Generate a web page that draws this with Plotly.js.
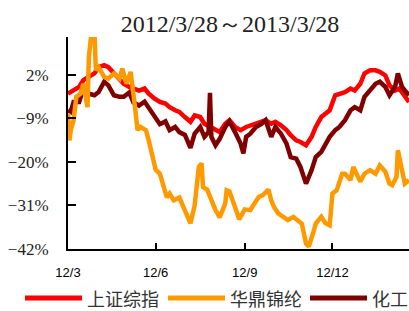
<!DOCTYPE html>
<html>
<head>
<meta charset="utf-8">
<script src="https://cdn.plot.ly/plotly-3.0.1.min.js"></script>
<style>html,body{margin:0;padding:0;background:#fff;}#chart{width:409px;height:311px;}</style>
</head>
<body>
<div id="chart"></div>
<script>
// Trading-day index (0 = 2012/3/28 ... 245 = 2013/3/28), cumulative change in %
var seriesNames = ['上证综指', '华鼎锦纶', '化工'];
var seriesColors = ['#FF0000', '#FF9900', '#800000'];

var szDays = [0,4,8,11,15,19,22,26,29,33,37,40,44,47,51,55,58,62,66,70,73,77,80,84,88,91,95,98,102,106,109,113,116,120,124,128,131,135,139,142,146,149,153,157,160,164,167,171,175,178,182,185,188,192,195,199,203,206,210,213,217,221,224,228,231,235,238,242,245];
var szVals = [-2.8,-2,-1.1,0.6,1.4,2.3,3.9,4.4,3.9,2.3,0.6,-0.3,-1.1,-1.5,-2,-1.5,-2.8,-4,-4.9,-5.3,-6.2,-7,-7.4,-8.7,-9.9,-8.3,-8.7,-10.4,-11.2,-12,-12.5,-10.4,-9.5,-11.2,-12,-11.2,-10.8,-10.4,-9.9,-9.5,-10.4,-9.9,-10.8,-12,-13.3,-14.6,-15,-15.8,-13.7,-11.2,-8.7,-7.8,-7,-3.2,-2.8,-2.4,-1.5,-2,-0.3,2.3,3.1,3.1,2.7,1.8,-0.7,-2,-1.5,-3.6,-4.9];

var hdDays = [0,1,2,4,6,9,11,14,15,17,19,20,22,26,29,33,37,39,42,45,47,50,52,56,58,60,63,66,68,71,73,76,80,84,88,91,94,96,97,100,102,106,109,113,114,116,120,123,127,131,134,137,140,144,146,148,151,155,158,162,166,168,171,173,176,178,182,185,188,190,193,197,199,203,205,208,210,213,217,221,224,228,231,233,236,237,240,242,245];
var hdVals = [-7.8,-14.6,-12,-9.5,-3.6,-2.8,-0.3,-6.2,6.5,13,13,3.1,3.9,1.4,1,2.3,1,3.5,-0.3,2.7,-2.8,-12,-11.2,-12,-14.6,-17.5,-22,-23,-25.5,-29,-28,-29.7,-29,-32.3,-35.5,-31,-21.3,-20.4,-26.4,-27,-28.8,-32.2,-34,-30.5,-27.2,-27.5,-31.4,-34.5,-32,-32.2,-30.5,-28.9,-28.4,-27,-29.7,-31.4,-33,-33.9,-34.7,-33.9,-35.1,-35.6,-40.6,-41.4,-38.1,-35.6,-33.9,-35.5,-36,-28,-27.2,-23,-23,-24.6,-21.3,-23.8,-25,-23,-22.1,-23,-20.9,-22.5,-25.5,-25.9,-23.8,-17.1,-23,-25.5,-24.6];

var hgDays = [0,2,4,8,11,15,19,22,26,29,33,37,40,44,47,51,55,59,62,66,70,73,77,80,84,88,91,95,98,101,102,103,106,109,113,116,120,124,126,128,131,135,139,142,146,149,153,157,160,164,167,171,175,178,182,185,188,192,195,199,203,206,210,213,217,221,224,228,231,235,237,240,242,245];
var hgVals = [-7,-7.4,-4.9,-4.9,-1.5,-2.8,-3.2,-2.4,0.2,-0.7,-3.2,-3.6,-3.6,-2.5,-5,-5.8,-4.8,-7,-8.5,-10.5,-9.8,-12,-11.2,-12.5,-13.2,-16.5,-12.9,-11.2,-13.7,-12.5,-2.6,-13.7,-15.8,-14.2,-11.2,-9.8,-12.5,-15.4,-17.9,-13.7,-12.9,-11.2,-10.4,-9.5,-13.7,-11.2,-12.9,-15.4,-18.8,-19.2,-21.3,-25.5,-22.1,-18.8,-17.5,-15.8,-13.7,-12,-11.2,-9.5,-7,-6.2,-7,-3.6,-2,-0.3,0.2,-1.1,-3.2,-1.1,2.3,-1.1,-2,-3.2];

var xTickVals = [0, 63, 127, 190];
var xTickText = ['12/3', '12/6', '12/9', '12/12'];
var yTickVals = [2, -9, -20, -31, -42];
var yTickText = ['2%', '−9%', '−20%', '−31%', '−42%'];
var titleText = '2012/3/28～2013/3/28';

var W = 409, H = 311, L = 68, R = 0, T = 37, B = 62;
var plotW = W - L - R, plotH = H - T - B;

function line(x, y, i) {
  return {type: 'scatter', mode: 'lines', x: x, y: y, name: seriesNames[i],
    line: {color: seriesColors[i], width: 4.5, shape: 'linear'}, showlegend: false, hoverinfo: 'skip'};
}
// drawing order: 上证综指, 化工, 华鼎锦纶 on top
var traces = [line(szDays, szVals, 0), line(hgDays, hgVals, 2), line(hdDays, hdVals, 1)];

// custom legend (long line swatches) in paper coords
function px(x) { return (x - L) / plotW; }
function py(y) { return (H - B - y) / plotH; }
var legendLineStart = [25, 168, 310];
var shapes = [], annotations = [];
for (var i = 0; i < seriesNames.length; i++) {
  var x0 = legendLineStart[i];
  shapes.push({type: 'line', xref: 'paper', yref: 'paper', x0: px(x0), x1: px(x0 + 57), y0: py(298), y1: py(298),
    line: {color: seriesColors[i], width: 5}});
  annotations.push({xref: 'paper', yref: 'paper', x: px(x0 + 60), y: py(298), xanchor: 'left', yanchor: 'middle',
    text: seriesNames[i], showarrow: false, font: {family: 'Noto Sans CJK SC', size: 18, color: '#333'}});
}

var layout = {
  width: W, height: H,
  margin: {l: L, r: R, t: T, b: B, pad: 0},
  paper_bgcolor: '#fff', plot_bgcolor: '#fff',
  showlegend: false,
  title: {text: titleText, x: 230 / W, xanchor: 'center', xref: 'container', y: 1 - 24 / H, yanchor: 'middle', yref: 'container',
    font: {family: 'Liberation Serif', size: 24, color: '#222'}},
  xaxis: {range: [0, 245], tickvals: xTickVals, ticktext: xTickText, ticks: 'inside', ticklen: 6, tickwidth: 2, tickcolor: '#000',
    showline: true, linewidth: 2, linecolor: '#000', showgrid: false, zeroline: false, ticklabelstandoff: 10,
    tickfont: {family: 'Liberation Sans', size: 13, color: '#000'}},
  yaxis: {range: [-42, 11.5], tickvals: yTickVals, ticktext: yTickText, ticks: 'inside', ticklen: 8, tickwidth: 2, tickcolor: '#000',
    showline: true, linewidth: 2, linecolor: '#000', showgrid: false, zeroline: false, ticklabelstandoff: 14,
    tickfont: {family: 'Liberation Serif', size: 17, color: '#222'}},
  shapes: shapes,
  annotations: annotations
};

Plotly.newPlot('chart', traces, layout, {displayModeBar: false, staticPlot: true});
</script>
</body>
</html>
